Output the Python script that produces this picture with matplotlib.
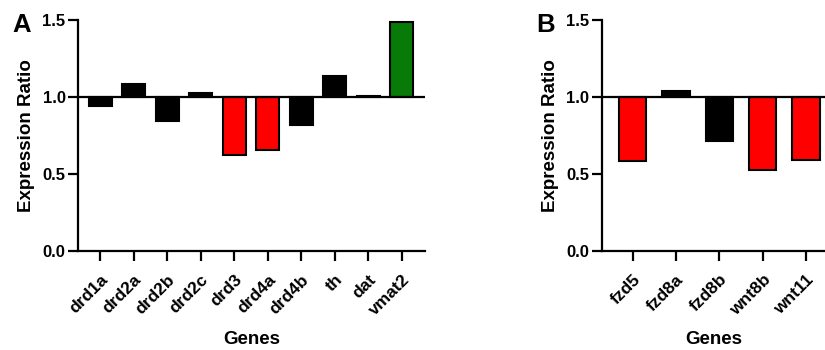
import matplotlib
matplotlib.use("Agg")
import matplotlib.pyplot as plt

plt.rcParams['font.family'] = ['Liberation Sans', 'DejaVu Sans']
plt.rcParams['font.weight'] = 'bold'

genes_a = ["drd1a", "drd2a", "drd2b", "drd2c", "drd3", "drd4a", "drd4b", "th", "dat", "vmat2"]
ratio_a = [0.94, 1.086, 0.846, 1.026, 0.621, 0.658, 0.818, 1.136, 1.005, 1.489]
colors_a = ["black", "black", "black", "black", "#ff0000", "#ff0000", "black", "black", "black", "#077a07"]

genes_b = ["fzd5", "fzd8a", "fzd8b", "wnt8b", "wnt11"]
ratio_b = [0.586, 1.039, 0.716, 0.524, 0.593]
colors_b = ["#ff0000", "black", "black", "#ff0000", "#ff0000"]

yticks = [0.0, 0.5, 1.0, 1.5]

W, H = 825, 350
fig = plt.figure(figsize=(W / 100, H / 100), dpi=100)

def panel(rect, genes, vals, cols, xlim, width, letter, letter_x):
    ax = fig.add_axes(rect)
    x = list(range(len(genes)))
    heights = [v - 1.0 for v in vals]
    ax.bar(x, heights, bottom=1.0, width=width, color=cols, edgecolor="black", linewidth=1.5, zorder=2)
    ax.axhline(1.0, color="black", linewidth=1.6, zorder=3)
    ax.set_xlim(*xlim)
    ax.set_ylim(0, 1.5)
    ax.set_yticks(yticks)
    ax.set_yticklabels([f"{t:.1f}" for t in yticks], fontsize=12, fontweight="bold")
    ax.set_xticks(x)
    ax.set_xticklabels(genes, rotation=45, ha="right", rotation_mode="anchor", fontsize=12.5, fontweight="bold")
    for s in ["top", "right"]:
        ax.spines[s].set_visible(False)
    for s in ["left", "bottom"]:
        ax.spines[s].set_linewidth(1.6)
    ax.tick_params(axis="both", direction="out", length=7, width=1.6)
    ax.tick_params(axis="y", pad=2)
    ax.tick_params(axis="x", pad=8)
    ax.set_ylabel("Expression Ratio", fontsize=13.5, fontweight="bold", labelpad=5)
    ax.set_xlabel("Genes", fontsize=13.5, fontweight="bold", labelpad=9)
    fig.text(letter_x / W, 1 - 32.5 / H, letter, fontsize=18.5, fontweight="bold", ha="left", va="baseline")
    return ax

bottom = 1 - 251 / H
height = (251 - 20) / H
panel([78 / W, bottom, (425 - 78) / W, height], genes_a, ratio_a, colors_a, (-0.66, 9.69), 0.68, "A", 12)
panel([601.7 / W, bottom, 223.5 / W, height], genes_b, ratio_b, colors_b, (-0.71, 4.44), 0.63, "B", 536)

fig.savefig("out.png", dpi=100)
